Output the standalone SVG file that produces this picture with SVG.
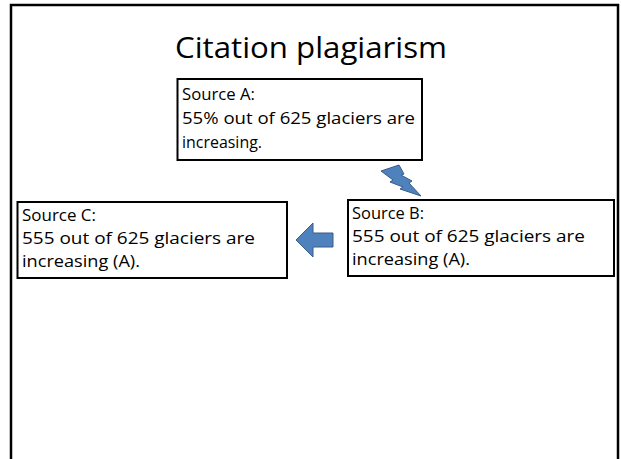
<svg xmlns="http://www.w3.org/2000/svg" width="621" height="459" viewBox="0 0 621 459">
<style>
.box{fill:#fff;stroke:#000;stroke-width:2}
.t{font-family:"Open Sans","Noto Sans","Liberation Sans",sans-serif;font-size:16.5px;fill:#000}
.shape{fill:#4F81BD;stroke:#385D8A;stroke-width:1}
</style>
<rect x="0" y="0" width="621" height="459" fill="#fff"/>
<rect x="11" y="5" width="607" height="470" fill="none" stroke="#000" stroke-width="2.5"/>
<text x="311" y="58" text-anchor="middle" font-family="Open Sans, Noto Sans, sans-serif" font-size="30" textLength="272" lengthAdjust="spacingAndGlyphs">Citation plagiarism</text>
<g id="sourceA">
<rect class="box" x="177.5" y="79" width="244.5" height="81"/>
<text class="t" x="182" y="100" textLength="73" lengthAdjust="spacingAndGlyphs">Source A:</text>
<text class="t" x="182" y="124" textLength="233" lengthAdjust="spacingAndGlyphs">55% out of 625 glaciers are</text>
<text class="t" x="182" y="148" textLength="80" lengthAdjust="spacingAndGlyphs">increasing.</text>
</g>
<g id="sourceB">
<rect class="box" x="348" y="200" width="266" height="76"/>
<text class="t" x="352" y="219" textLength="72" lengthAdjust="spacingAndGlyphs">Source B:</text>
<text class="t" x="352" y="242" textLength="233" lengthAdjust="spacingAndGlyphs">555 out of 625 glaciers are</text>
<text class="t" x="352" y="265" textLength="118" lengthAdjust="spacingAndGlyphs">increasing (A).</text>
</g>
<g id="sourceC">
<rect class="box" x="17.5" y="202" width="269.5" height="76"/>
<text class="t" x="22" y="221" textLength="74" lengthAdjust="spacingAndGlyphs">Source C:</text>
<text class="t" x="22" y="244" textLength="233" lengthAdjust="spacingAndGlyphs">555 out of 625 glaciers are</text>
<text class="t" x="22" y="267" textLength="118" lengthAdjust="spacingAndGlyphs">increasing (A).</text>
</g>
<g id="connectors">
<polygon class="shape" points="381,171 399,165 404,174 401,175 412,181 409,183 421,196 400,189 403,187 390,182 393,180"/>
<polygon class="shape" points="296,240 313,223 313,233 333,233 333,247 313,247 313,257"/>
</g>
</svg>
